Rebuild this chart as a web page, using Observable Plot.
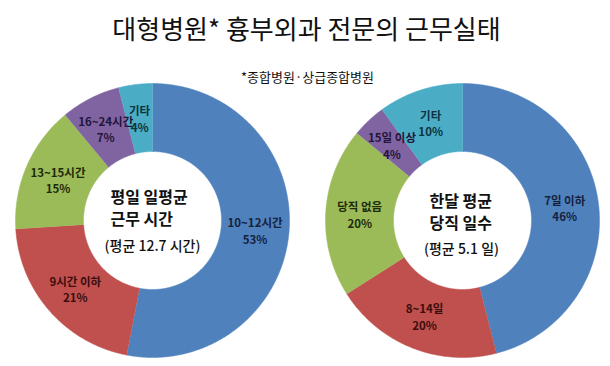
<!DOCTYPE html>
<html>
<head>
<meta charset="utf-8">
<script src="https://cdn.jsdelivr.net/npm/d3@7"></script>
<script src="https://cdn.jsdelivr.net/npm/@observablehq/plot@0.6"></script>
<style>
  html, body { margin: 0; padding: 0; background: #fff; }
  #chart svg { display: block; }
</style>
</head>
<body>
<div id="chart"></div>
<script>
const title = "대형병원* 흉부외과 전문의 근무실태";
const subtitle = "*종합병원·상급종합병원";

const hoursCategories = ["10~12시간", "9시간 이하", "13~15시간", "16~24시간", "기타"];
const hoursValues = [53, 21, 15, 7, 4];
const hoursCenter = ["평일 일평균", "근무 시간"];
const hoursAverage = "(평균 12.7 시간)";

const dutyCategories = ["7일 이하", "8~14일", "당직 없음", "15일 이상", "기타"];
const dutyValues = [46, 20, 20, 4, 10];
const dutyCenter = ["한달 평균", "당직 일수"];
const dutyAverage = "(평균 5.1 일)";

const sliceColors = ["#4F81BD", "#C0504D", "#9BBB59", "#8064A2", "#4BACC6"];
const labelColors = ["#15213d", "#3a0e0e", "#1e2a0a", "#23153a", "#0c3340"];

const W = 610, H = 366;
const R = 137, r = 69;
const font = "'Noto Sans CJK KR', 'Noto Sans', sans-serif";

function donut(cats, vals, cx, cy, chart) {
  const arcs = d3.pie().sort(null).value(d => d)(vals);
  const polys = [], labels = [];
  arcs.forEach((p, i) => {
    const span = p.endAngle - p.startAngle;
    const n = Math.max(6, Math.ceil(span / 0.01));
    for (let k = 0; k <= n; k++) {
      const a = p.startAngle + span * k / n;
      polys.push({chart, slice: String(i), x: cx + R * Math.sin(a), y: cy - R * Math.cos(a)});
    }
    for (let k = n; k >= 0; k--) {
      const a = p.startAngle + span * k / n;
      polys.push({chart, slice: String(i), x: cx + r * Math.sin(a), y: cy - r * Math.cos(a)});
    }
    const m = (p.startAngle + p.endAngle) / 2, rm = (R + r) / 2;
    labels.push({slice: i, x: cx + rm * Math.sin(m), y: cy - rm * Math.cos(m), text: `${cats[i]}\n${vals[i]}%`});
  });
  return {polys, labels};
}

const left = donut(hoursCategories, hoursValues, 152, 220, "hours");
const right = donut(dutyCategories, dutyValues, 462, 220, "duty");
const polys = [...left.polys, ...right.polys];
const labels = [...left.labels, ...right.labels];

const centerText = [
  {x: 110, y: 197, text: hoursCenter[0]},
  {x: 110, y: 219, text: hoursCenter[1]},
  {x: 429, y: 201, text: dutyCenter[0]},
  {x: 429, y: 223, text: dutyCenter[1]}
];
const avgText = [
  {x: 152, y: 246, text: hoursAverage},
  {x: 461, y: 249, text: dutyAverage}
];

const chart = Plot.plot({
  width: W,
  height: H,
  margin: 0,
  style: {background: "#fff", fontFamily: font},
  x: {domain: [0, W], range: [0, W], axis: null},
  y: {domain: [0, H], range: [0, H], axis: null},
  color: {type: "ordinal", domain: ["0", "1", "2", "3", "4"], range: sliceColors},
  marks: [
    Plot.line(polys, {x: "x", y: "y", z: d => d.chart + "-" + d.slice, fill: "slice", stroke: "slice", strokeWidth: 0.5, curve: "linear"}),
    ...labelColors.map((c, i) => Plot.text(labels.filter(d => d.slice === i), {
      x: "x", y: "y", text: "text", fill: c, fontSize: 11.5, fontWeight: "bold", lineHeight: 1.45, fontFamily: font
    })),
    Plot.text(centerText, {x: "x", y: "y", text: "text", textAnchor: "start", fontSize: 16, fontWeight: "bold", fill: "#111", fontFamily: font}),
    Plot.text(avgText, {x: "x", y: "y", text: "text", fontSize: 14, fontWeight: 500, fill: "#111", fontFamily: font}),
    Plot.text([title], {x: () => 306, y: () => 30, text: d => d, fontSize: 26, fill: "#111", fontFamily: font}),
    Plot.text([subtitle], {x: () => 307, y: () => 77, text: d => d, fontSize: 13, fill: "#111", fontFamily: font})
  ]
});

document.getElementById("chart").appendChild(chart);
</script>
</body>
</html>
